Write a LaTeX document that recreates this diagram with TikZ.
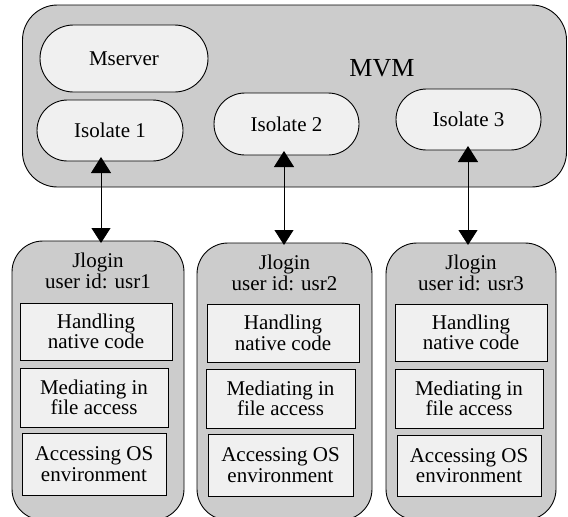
\documentclass[tikz,border=0pt]{standalone}
\usepackage{fontspec}
\setmainfont{Liberation Serif}
\usetikzlibrary{shapes.misc,arrows.meta}
\definecolor{outergray}{HTML}{CCCCCC}
\definecolor{innerlight}{HTML}{F0F0F0}
\tikzset{
  base/.style={draw=black,line width=0.9pt,inner sep=0pt,outer sep=0pt},
  mvmbox/.style={base,fill=outergray,rounded corners=35pt},
  stadium/.style={base,fill=innerlight,rounded rectangle,font=\fontsize{21}{20.5}\selectfont},
  jlbox/.style={base,fill=outergray,rounded corners=31pt},
  taskbox/.style={base,fill=innerlight,align=center,font=\fontsize{21}{20.5}\selectfont},
  hdr/.style={inner sep=0pt,align=center,font=\fontsize{21}{20.5}\selectfont},
  link/.style={line width=0.9pt,{Triangle[length=16pt,width=20pt]}-{Triangle[length=15pt,width=19pt]},shorten <=-4pt,shorten >=-2pt}
}
\begin{document}
\begin{tikzpicture}[x=1pt,y=-1pt]
\useasboundingbox (0,0) rectangle (568,517);
\clip (0,0) rectangle (568,517);
% MVM
\node[mvmbox,minimum width=544pt,minimum height=182pt] (mvm) at (294.5,96) {};
\node[inner sep=0pt,font=\fontsize{26}{26}\selectfont] (mvmlabel) at (382,68) {MVM};
\node[stadium,minimum width=168pt,minimum height=67pt] (mserver) at (124,58.5) {Mserver};
\node[stadium,minimum width=146pt,minimum height=61pt] (iso1) at (110,130.5) {Isolate 1};
\node[stadium,minimum width=145pt,minimum height=62pt] (iso2) at (286.5,124) {Isolate 2};
\node[stadium,minimum width=145pt,minimum height=61pt] (iso3) at (468.5,119.5) {Isolate 3};
% Jlogin boxes
\node[jlbox,minimum width=172pt,minimum height=279pt] (jl1) at (98,380.5) {};
\node[jlbox,minimum width=175pt,minimum height=277pt] (jl2) at (284.5,381.5) {};
\node[jlbox,minimum width=170pt,minimum height=277pt] (jl3) at (471,381.5) {};
\node[hdr] (h1) at (98,271) {Jlogin\\user id: usr1};
\node[hdr] (h2) at (284.5,273) {Jlogin\\user id: usr2};
\node[hdr] (h3) at (471,273) {Jlogin\\user id: usr3};
% tasks
\node[taskbox,minimum width=152pt,minimum height=57pt] (a1) at (96,331.5) {Handling\\native code};
\node[taskbox,minimum width=148pt,minimum height=59pt] (b1) at (94,397.5) {Mediating in\\file access};
\node[taskbox,minimum width=144pt,minimum height=62pt] (c1) at (94,464) {Accessing OS\\environment};
\node[taskbox,minimum width=152pt,minimum height=58pt] (a2) at (283,333) {Handling\\native code};
\node[taskbox,minimum width=149pt,minimum height=59pt] (b2) at (280.5,398.5) {Mediating in\\file access};
\node[taskbox,minimum width=145pt,minimum height=62pt] (c2) at (280.5,465) {Accessing OS\\environment};
\node[taskbox,minimum width=152pt,minimum height=57pt] (a3) at (471,332.5) {Handling\\native code};
\node[taskbox,minimum width=148pt,minimum height=59pt] (b3) at (469,398.5) {Mediating in\\file access};
\node[taskbox,minimum width=144pt,minimum height=61pt] (c3) at (469,465.5) {Accessing OS\\environment};
% links
\draw[link] ([xshift=-9pt]iso1.south) -- ([xshift=3pt]jl1.north);
\draw[link] ([xshift=-2.5pt]iso2.south) -- ([xshift=-0.5pt]jl2.north);
\draw[link] ([xshift=-0.5pt]iso3.south) -- ([xshift=-3pt]jl3.north);
\end{tikzpicture}
\end{document}
